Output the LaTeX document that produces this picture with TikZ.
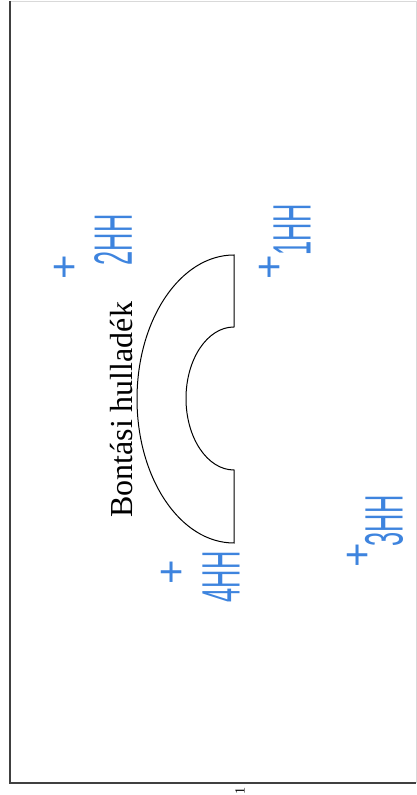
\documentclass[tikz,border=0pt]{standalone}
\usepackage{fontspec}
\setmainfont{Liberation Serif}
\setsansfont{Liberation Sans}
\usepackage{xcolor}
\usetikzlibrary{positioning}
\definecolor{inkblue}{RGB}{62,132,222}

\begin{document}
\begin{tikzpicture}[x=1pt, y=1pt,
  handnote/.style={text=inkblue, font=\sffamily\fontsize{54}{54}\selectfont, inner sep=0pt, rotate=90, xscale=0.47},
  plussign/.style={text=inkblue, font=\sffamily\fontsize{42}{42}\selectfont, inner sep=0pt, rotate=90}]
\useasboundingbox (0,0) rectangle (417,795);
% sheet frame
\draw[black!15, line width=0.8pt] (10,794) -- (416,794) -- (416,12);
\draw[black!75, line width=1.4pt] (10,794) |- (416,12);
% half ring
\draw[line width=1pt] (234,540) arc[start angle=90, end angle=270, x radius=97, y radius=144]
  -- (234,325) arc[start angle=270, end angle=90, x radius=48, y radius=71.5] -- cycle;
\node[rotate=90, anchor=base west, inner sep=0pt, font=\fontsize{32}{32}\selectfont] (waste) at (132,277) {Bontási hulladék};
% handwritten notes
\foreach \k/\px/\py/\hx/\hy in {1/271/528/292/565, 2/66/528/113/555, 3/359/240/384/274, 4/173/223/221/218}{
  \node[plussign] (plus\k) at (\px,\py) {+};
  \node[handnote] (note\k) at (\hx,\hy) {\k HH};
}
\node[rotate=90, inner sep=0pt, font=\fontsize{14}{14}\selectfont] (page) at (240,4) {1};
\end{tikzpicture}
\end{document}
